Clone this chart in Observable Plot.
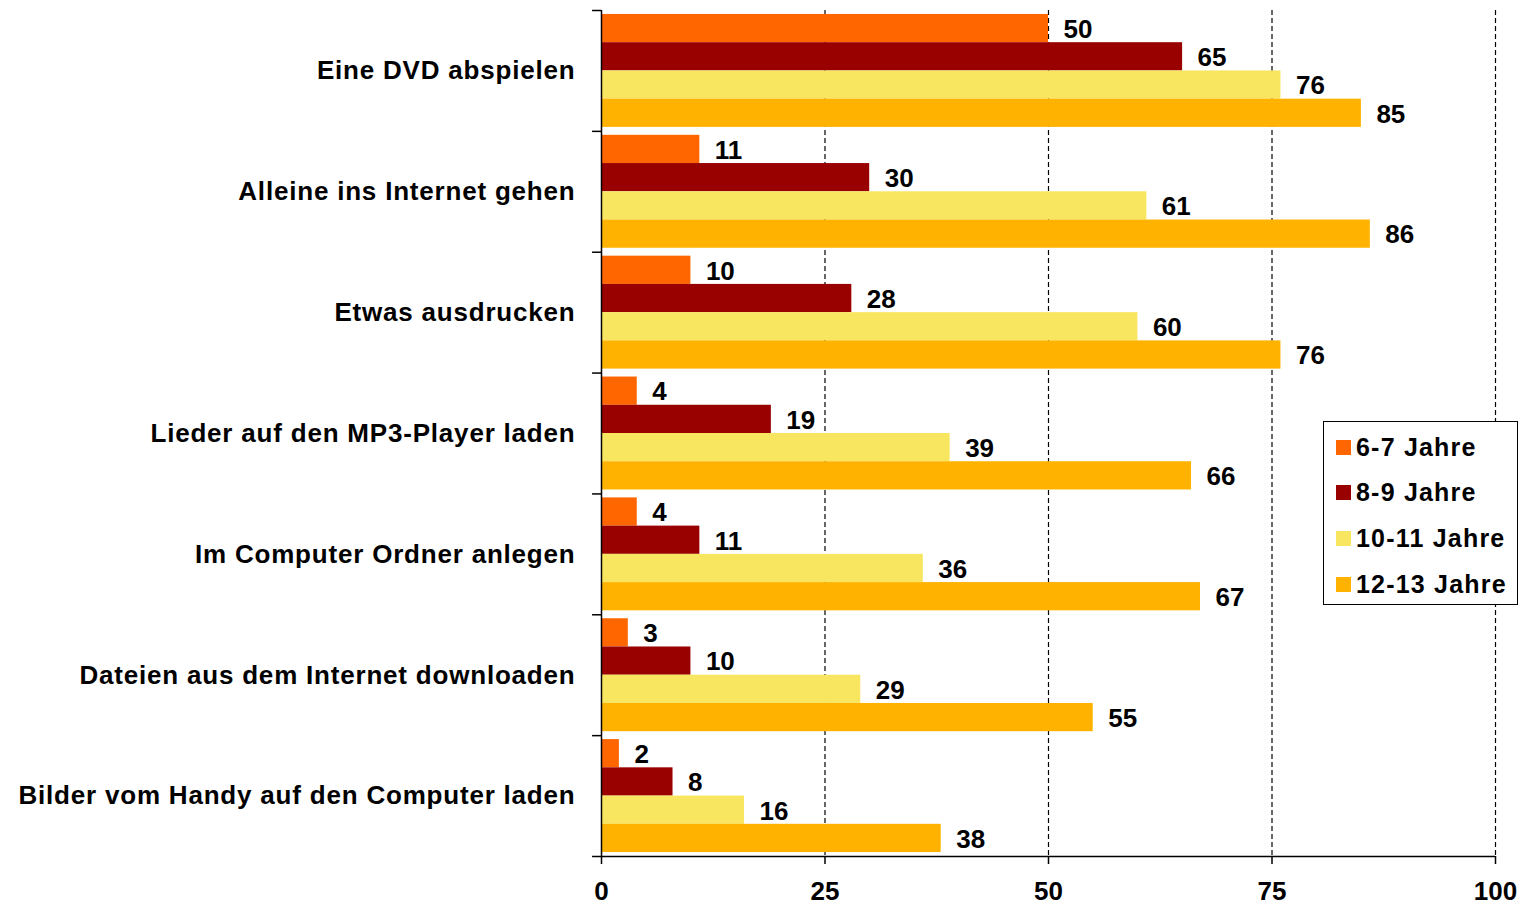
<!DOCTYPE html>
<html><head><meta charset="utf-8">
<script src="https://cdn.jsdelivr.net/npm/d3@7"></script>
<script src="https://cdn.jsdelivr.net/npm/@observablehq/plot@0.6"></script>
<style>
body{margin:0;background:#fff;}
#wrap{position:relative;width:1523px;height:905px;}
#legend{position:absolute;left:1323px;top:421px;width:195px;height:184px;border:1.5px solid #000;box-sizing:border-box;font-family:"Liberation Sans",Arial,sans-serif;font-weight:bold;font-size:25px;letter-spacing:1.2px;background:#fff;color:#000;}
.row{position:absolute;left:12px;height:30px;display:flex;align-items:center;white-space:nowrap;}
.sw{width:15px;height:15px;margin-right:5px;}
g[aria-label="y-axis tick label"] text{letter-spacing:0.8px;}
</style></head><body><div id="wrap"><div id="legend"></div></div>
<script>
const categories = [
  "Eine DVD abspielen",
  "Alleine ins Internet gehen",
  "Etwas ausdrucken",
  "Lieder auf den MP3-Player laden",
  "Im Computer Ordner anlegen",
  "Dateien aus dem Internet downloaden",
  "Bilder vom Handy auf den Computer laden"
];
const series = ["6-7 Jahre", "8-9 Jahre", "10-11 Jahre", "12-13 Jahre"];
const colors = ["#FF6600", "#990000", "#F9E660", "#FFB300"];
const v6_7 = [50, 11, 10, 4, 4, 3, 2];
const v8_9 = [65, 30, 28, 19, 11, 10, 8];
const v10_11 = [76, 61, 60, 39, 36, 29, 16];
const v12_13 = [85, 86, 76, 66, 67, 55, 38];
const xTicks = [0, 25, 50, 75, 100];
const gridValues = [25, 50, 75, 100];

const values = [v6_7, v8_9, v10_11, v12_13];
const rows = [];
series.forEach((s, si) => categories.forEach((c, ci) => rows.push({category: c, series: s, value: values[si][ci]})));

const W = 1523, H = 905, mT = 10, mB = 49, mL = 601, mR = 28;
const bw = (H - mT - mB) / categories.length;
const sub = d3.scaleBand(series, [0, bw]).paddingInner(0).paddingOuter(0.14);

const marks = [
  Plot.ruleX(gridValues, {stroke: "#000", strokeWidth: 1.2, strokeDasharray: "5,3"})
];
series.forEach((s, si) => {
  const d = rows.filter(r => r.series === s);
  const top = sub(s), h = sub.bandwidth();
  marks.push(Plot.barX(d, {y: "category", x1: 0, x2: "value", fill: colors[si],
    insetTop: top, insetBottom: bw - top - h}));
  marks.push(Plot.text(d, {y: "category", x: "value", text: d => String(d.value),
    textAnchor: "start", dx: 15, dy: top + h / 2 - bw / 2 + 1, fill: "#000"}));
});
marks.push(Plot.ruleX([0], {stroke: "#000", strokeWidth: 1.5}));
marks.push(Plot.ruleY(categories, {y: d => d, x1: -1, x2: 0, dy: -bw / 2, stroke: "#000", strokeWidth: 1.5}));
marks.push(Plot.ruleY(categories.slice(-1), {y: d => d, x1: -1, x2: 100, dy: bw / 2, stroke: "#000", strokeWidth: 1.5}));
marks.push(Plot.axisX(xTicks, {tickSize: 8, tickPadding: 17, stroke: "#000", strokeWidth: 1.5, fill: "#000"}));
marks.push(Plot.axisY({tickSize: 0, tickPadding: 26, fill: "#000"}));

const chart = Plot.plot({
  width: W, height: H,
  marginTop: mT, marginBottom: mB, marginLeft: mL, marginRight: mR,
  x: {domain: [0, 100], label: null},
  y: {domain: categories, padding: 0, round: false, label: null},
  style: {fontFamily: "'Liberation Sans', Arial, sans-serif", fontSize: "26px", fontWeight: "bold", background: "#fff", color: "#000", overflow: "visible"},
  marks
});
document.getElementById("wrap").prepend(chart);

const lg = document.getElementById("legend");
series.forEach((s, i) => {
  const r = document.createElement("div");
  r.className = "row";
  r.style.top = (10 + i * 45.7) + "px";
  r.innerHTML = `<span class="sw" style="background:${colors[i]}"></span><span>${s}</span>`;
  lg.appendChild(r);
});
</script></body></html>
